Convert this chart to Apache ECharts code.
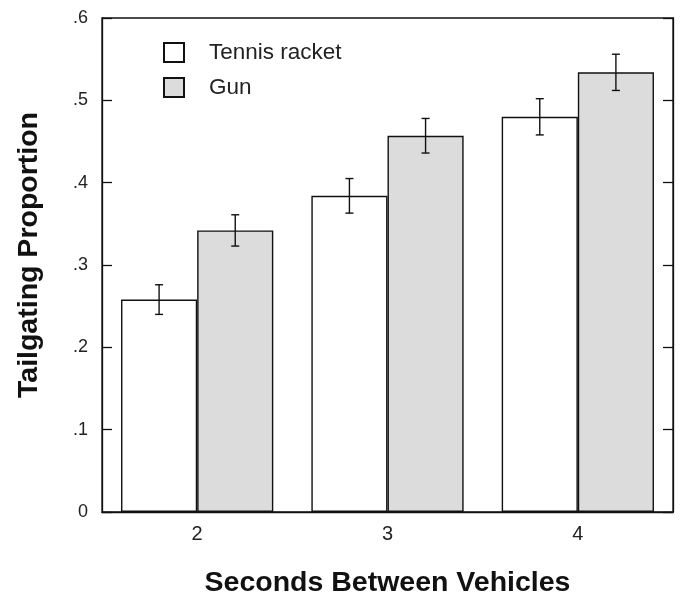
<!DOCTYPE html>
<html>
<head>
<meta charset="utf-8">
<script src="https://cdn.jsdelivr.net/npm/echarts@6/dist/echarts.min.js"></script>
<style>html,body{margin:0;padding:0;background:#fff}#c{width:681px;height:596px}</style>
</head>
<body>
<div id="c"></div>
<script>
var categories = ['2', '3', '4'];
var seriesNames = ['Tennis racket', 'Gun'];
var tennisValues = [0.258, 0.384, 0.480];
var gunValues = [0.342, 0.457, 0.534];
var tennisErr = [0.018, 0.021, 0.022];
var gunErr = [0.019, 0.021, 0.022];
var yTicks = [0, 0.1, 0.2, 0.3, 0.4, 0.5, 0.6];

var FONT = 'Liberation Sans, Arial, sans-serif';
var chart = echarts.init(document.getElementById('c'));

function errData(vals, errs) {
  return vals.map(function (v, i) { return [i, v - errs[i], v + errs[i]]; });
}
function errSeries(name, vals, errs, side) {
  return {
    type: 'custom',
    name: name + ' err',
    silent: true,
    z: 5,
    data: errData(vals, errs),
    renderItem: function (params, api) {
      var band = api.size([1, 0])[0];
      var lo = api.coord([api.value(0), api.value(1)]);
      var hi = api.coord([api.value(0), api.value(2)]);
      var x = lo[0] + side * band * 0.2;
      var hw = 4;
      var st = { stroke: '#111', lineWidth: 1.4 };
      return {
        type: 'group',
        children: [
          { type: 'line', shape: { x1: x, y1: lo[1], x2: x, y2: hi[1] }, style: st },
          { type: 'line', shape: { x1: x - hw, y1: lo[1], x2: x + hw, y2: lo[1] }, style: st },
          { type: 'line', shape: { x1: x - hw, y1: hi[1], x2: x + hw, y2: hi[1] }, style: st }
        ]
      };
    }
  };
}

var yLabelFmt = function (v) {
  if (Math.abs(v) < 1e-9) return '0';
  return String(Math.round(v * 10) / 10).replace(/^0/, '');
};

chart.setOption({
  animation: false,
  textStyle: { fontFamily: FONT },
  grid: { left: 102, right: 8, top: 18, bottom: 84, outerBoundsMode: 'none', containLabel: false,
    show: true, borderColor: '#111', borderWidth: 1.3, backgroundColor: 'transparent' },
  legend: {
    data: seriesNames.map(function (n) { return { name: n, icon: 'rect' }; }),
    orient: 'vertical',
    left: 163,
    top: 41,
    padding: 0,
    itemWidth: 20,
    itemHeight: 19,
    itemGap: 12,
    textStyle: { fontSize: 22.5, lineHeight: 19, color: '#222', fontFamily: FONT, padding: [0, 0, 0, 20] },
    selectedMode: false
  },
  xAxis: {
    type: 'category',
    data: categories,
    boundaryGap: true,
    axisLine: { show: true, lineStyle: { color: '#111', width: 1.3 } },
    axisTick: { show: false },
    axisLabel: { fontSize: 20, color: '#222', margin: 12, fontFamily: FONT },
    name: 'Seconds Between Vehicles',
    nameLocation: 'middle',
    nameGap: 57,
    nameTextStyle: { fontSize: 28.5, fontWeight: 'bold', color: '#111', fontFamily: FONT }
  },
  yAxis: [{
    type: 'value',
    min: 0,
    max: 0.6,
    interval: 0.1,
    position: 'left',
    splitLine: { show: false },
    axisLine: { show: true, lineStyle: { color: '#111', width: 1.3 } },
    axisTick: { show: true, inside: true, length: 10, lineStyle: { color: '#111', width: 1.3 } },
    axisLabel: { fontSize: 18, color: '#222', margin: 14, fontFamily: FONT, formatter: yLabelFmt,
      customValues: yTicks },
    name: 'Tailgating Proportion',
    nameLocation: 'middle',
    nameGap: 58,
    nameRotate: 90,
    nameTextStyle: { fontSize: 28.5, fontWeight: 'bold', color: '#111', fontFamily: FONT, padding: [0, 0, 0, 20] }
  }, {
    type: 'value',
    min: 0,
    max: 0.6,
    interval: 0.1,
    position: 'right',
    splitLine: { show: false },
    axisLine: { show: true, lineStyle: { color: '#111', width: 1.3 } },
    axisTick: { show: true, inside: true, length: 10, lineStyle: { color: '#111', width: 1.3 } },
    axisLabel: { show: false }
  }],
  series: [{
    type: 'bar',
    name: seriesNames[0],
    data: tennisValues,
    barGap: '0%',
    barCategoryGap: '20%',
    itemStyle: { color: '#ffffff', borderColor: '#111', borderWidth: 1.4 }
  }, {
    type: 'bar',
    name: seriesNames[1],
    data: gunValues,
    barGap: '0%',
    barCategoryGap: '20%',
    itemStyle: { color: '#dcdcdc', borderColor: '#111', borderWidth: 1.4 }
  },
  errSeries(seriesNames[0], tennisValues, tennisErr, -1),
  errSeries(seriesNames[1], gunValues, gunErr, 1)
  ]
});
</script>
</body>
</html>
